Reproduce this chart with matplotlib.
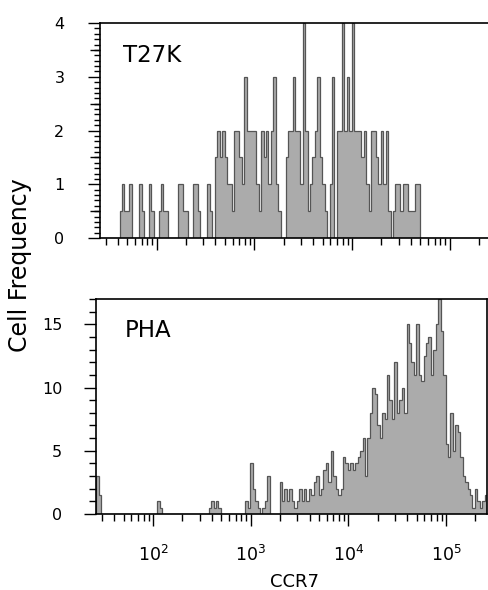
import numpy as np
import matplotlib
matplotlib.use("Agg")
import matplotlib.pyplot as plt
from matplotlib.ticker import FixedLocator, MultipleLocator, LogLocator, NullFormatter

# histogram channels: 160 bins, 0.025 decade wide, starting at 10^1.42
log_start = 1.42
log_step = 0.025
n_bins = 160

# T27K counts per channel
t27k_counts = [
    0, 0, 0, 0, 0, 0, 0, 0,
    0.5, 1, 0.5, 0.5, 1,
    0, 0, 0,
    1, 0.5,
    0, 0,
    1, 0.5,
    0, 0,
    0.5, 1, 0.5, 0.5,
    0, 0, 0, 0,
    1, 1, 0.5, 0.5,
    0, 0,
    1, 1, 0.5,
    0, 0, 0,
    1, 0.5,
    0,
    1.5, 2, 1.5, 2, 1.5, 1, 1,
    0.5,
    2, 2, 1.5, 1,
    3, 2, 2, 2, 2,
    1, 0.5,
    2, 1.5, 2, 1,
    2, 3, 1, 0.5,
    0, 0,
    1.5, 2, 2, 3,
    2, 2, 1,
    4, 2, 0.5,
    1, 1.5, 2, 3, 1.5, 1, 0.5,
    0,
    1, 3,
    0,
    2, 2, 4, 2, 3, 2, 4,
    2, 2, 2, 1.5, 2, 1,
    0.5,
    2, 2, 1.5, 1,
    2, 1, 2, 0.5,
    0,
    0.5, 1, 1, 0.5, 1, 1, 0.5, 0.5, 0.5, 1, 1,
] + [0] * 29

# PHA counts per channel
pha_counts = [3, 1.5] + [0] * 23 + [1, 0.5] + [0] * 19 + [
    0.5, 1, 0.5, 1, 0.5,
] + [0] * 10 + [
    1, 0.5, 4, 2, 1, 0.5, 0, 0.5, 1, 3,
    0, 0, 0, 0,
    2.5, 1, 2, 1, 2, 1, 0.5, 1, 2, 1, 2, 1, 2, 1.5, 2.5, 3, 1.5, 2, 3.5, 4, 2.5, 5, 3, 2, 1.5,
    2, 4.5, 4, 3.5, 4, 3.5, 4, 4.5, 5, 6, 3, 6, 8, 10, 9.5, 7, 6, 8, 7.5, 11, 9, 7.5, 12, 8, 9,
    10, 8, 15, 13.5, 12, 11, 15, 11, 10.5, 12.5, 13.5, 14, 11, 13, 15, 17, 14.5, 11, 5.5, 4.5, 8, 5, 7, 6.5, 4.5,
    3, 2.5, 2, 1.5, 0.5, 2, 1, 0.5, 1, 1.5,
]

edges = 10 ** (log_start + log_step * np.arange(n_bins + 1))
xmin, xmax = 10 ** 1.42, 10 ** 5.42

fill_col = "#ababab"
line_col = "#555555"

plt.rcParams["font.family"] = "DejaVu Sans"

W, H = 488, 590
fig = plt.figure(figsize=(W / 100, H / 100), dpi=100)
ax_top = fig.add_axes([100 / W, 1 - 238 / H, 390.7 / W, 215 / H])
ax_bot = fig.add_axes([96.4 / W, 1 - 514 / H, 390.7 / W, 215 / H])


def draw_hist(ax, counts):
    ax.stairs(counts, edges, fill=True, color=fill_col, lw=0)
    ax.stairs(counts, edges, color=line_col, lw=0.9)
    ax.set_xscale("log")
    ax.set_xlim(xmin, xmax)
    ax.xaxis.set_major_locator(LogLocator(base=10, numticks=10))
    ax.xaxis.set_minor_locator(LogLocator(base=10, subs=np.arange(2, 10), numticks=20))
    ax.xaxis.set_minor_formatter(NullFormatter())
    for s in ax.spines.values():
        s.set_linewidth(1.2)
    ax.tick_params(which="both", direction="out", top=False, right=False, width=1)
    ax.tick_params(which="major", length=8.6)
    ax.tick_params(which="minor", length=5)
    ax.tick_params(axis="y", labelsize=11.5)
    ax.tick_params(axis="x", labelsize=12.5, pad=14)


draw_hist(ax_top, t27k_counts)
ax_top.set_ylim(0, 4)
ax_top.yaxis.set_major_locator(FixedLocator([0, 1, 2, 3, 4]))
ax_top.yaxis.set_minor_locator(MultipleLocator(0.1))
ax_top.tick_params(axis="y", which="minor", length=4)
ax_top.tick_params(axis="y", pad=17)
ax_top.tick_params(axis="x", labelbottom=False)
ax_top.spines["right"].set_visible(False)
# half-unit ticks are a bit longer
half = ax_top.secondary_yaxis("left")
half.set_yticks([0.5, 1.5, 2.5, 3.5])
half.tick_params(length=7, width=1, labelleft=False)
half.yaxis.set_minor_locator(FixedLocator([]))
half.spines["left"].set_visible(False)
ax_top.text(0.059, 0.819, "T27K", transform=ax_top.transAxes, fontsize=16.5, va="baseline")

draw_hist(ax_bot, pha_counts)
ax_bot.set_ylim(0, 17)
ax_bot.yaxis.set_major_locator(FixedLocator([0, 5, 10, 15]))
ax_bot.yaxis.set_minor_locator(MultipleLocator(1))
ax_bot.tick_params(axis="y", pad=16)
ax_bot.text(0.073, 0.823, "PHA", transform=ax_bot.transAxes, fontsize=16.5, va="baseline")

fig.text(0.604, 1 - 587 / H, "CCR7", ha="center", va="baseline", fontsize=13)
fig.text(0.041, 0.551, "Cell Frequency", rotation=90, ha="center", va="center", fontsize=17)

fig.savefig("out.png", dpi=100)
